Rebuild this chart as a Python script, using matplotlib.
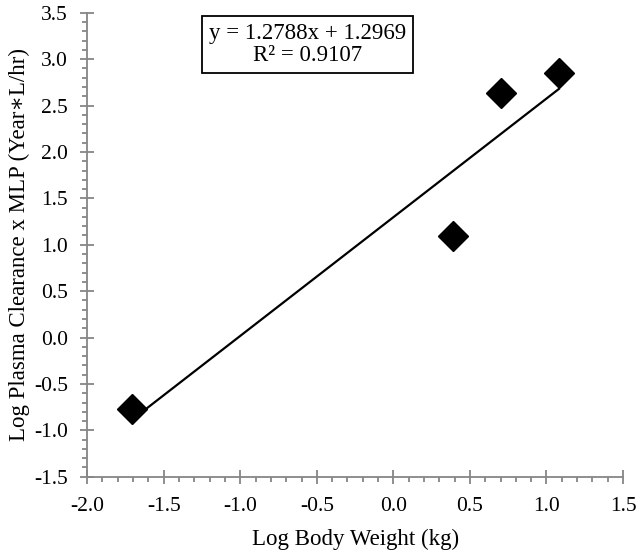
import numpy as np
import matplotlib
matplotlib.use('Agg')
import matplotlib.pyplot as plt
from matplotlib.ticker import MultipleLocator

# Data
log_body_weight = [-1.71, 0.39, 0.70, 1.08]
log_clearance_mlp = [-0.77, 1.09, 2.64, 2.85]

# Trendline as printed on the chart
slope = 1.2788
intercept = 1.2969
r_squared = 0.9107

plt.rcParams['font.family'] = ['Liberation Serif', 'DejaVu Serif']
axis_grey = '#868686'

fig = plt.figure(figsize=(6.41, 5.55), dpi=100)
ax = fig.add_axes([0.136, 0.141, 0.836, 0.836])

x_fit = np.array([min(log_body_weight), max(log_body_weight)])
ax.plot(x_fit, slope * x_fit + intercept, color='black', lw=1.6, zorder=2)
ax.plot(log_body_weight, log_clearance_mlp, linestyle='none', marker='D',
        ms=15, color='black', zorder=3)

ax.set_xlim(-2.0, 1.5)
ax.set_ylim(-1.5, 3.5)
ax.xaxis.set_major_locator(MultipleLocator(0.5))
ax.xaxis.set_minor_locator(MultipleLocator(0.1))
ax.yaxis.set_major_locator(MultipleLocator(0.5))
ax.yaxis.set_minor_locator(MultipleLocator(0.1))
ax.xaxis.set_major_formatter(lambda v, p: f'{v:.1f}')
ax.yaxis.set_major_formatter(lambda v, p: f'{v:.1f}')

for side in ['top', 'right']:
    ax.spines[side].set_visible(False)
for side in ['left', 'bottom']:
    ax.spines[side].set_color(axis_grey)
    ax.spines[side].set_linewidth(1.3)

ax.tick_params(which='major', direction='inout', length=9.5, width=1.3,
               color=axis_grey, labelsize=15.5)
ax.tick_params(axis='x', which='major', pad=10)
ax.tick_params(axis='y', which='major', pad=9)
ax.tick_params(which='minor', direction='out', length=3.5, width=1.3,
               color=axis_grey)

ax.set_xlabel('Log Body Weight (kg)', fontsize=16.5, labelpad=9)
ax.set_ylabel('Log Plasma Clearance x MLP (Year\u2217L/hr)', fontsize=16.5, labelpad=3)

ax.text(-0.56, 3.16, f'y = {slope}x + {intercept}\nR² = {r_squared}',
        fontsize=16.5, ha='center', va='center', multialignment='center',
        linespacing=1.1,
        bbox=dict(boxstyle='square,pad=0.3', fc='white', ec='black', lw=1.3))

fig.savefig('out.png', dpi=100)
